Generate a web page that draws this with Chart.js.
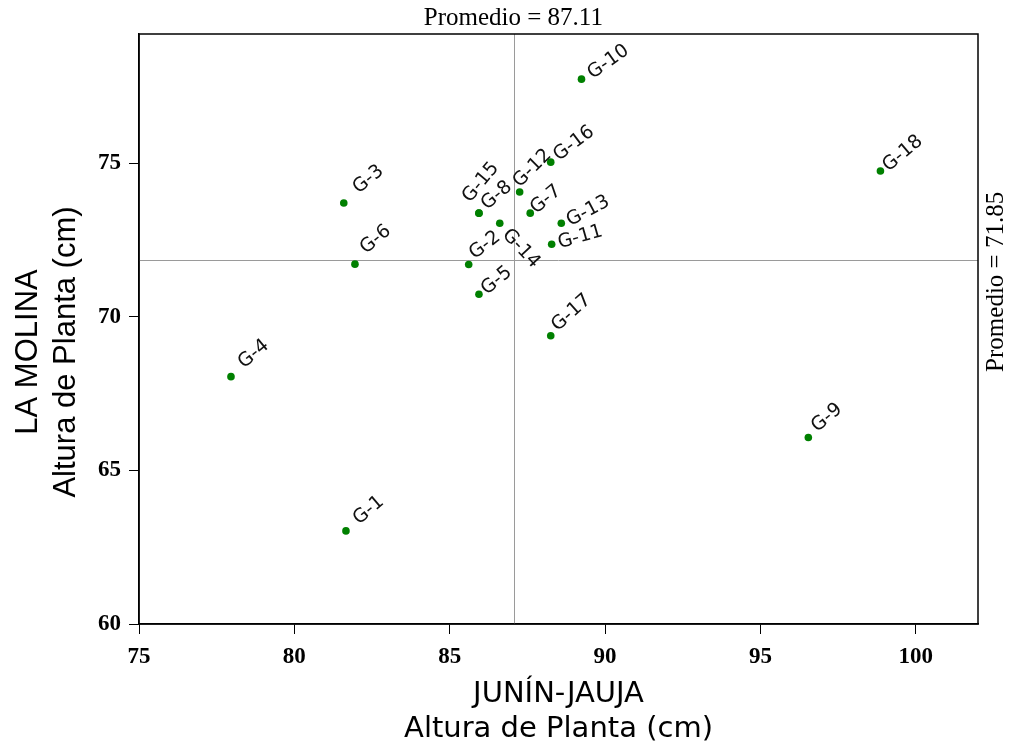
<!DOCTYPE html>
<html>
<head>
<meta charset="utf-8">
<script src="https://cdn.jsdelivr.net/npm/chart.js@4.4.0/dist/chart.umd.min.js"></script>
<style>
  body { margin: 0; background: #fff; }
  #wrap { width: 1010px; height: 749px; }
</style>
</head>
<body>
<div id="wrap"><canvas id="grafico" width="1010" height="749"></canvas></div>
<script>
// Genotipos y altura de planta (cm) en cada localidad
const genotipos = ['G-1', 'G-2', 'G-3', 'G-4', 'G-5', 'G-6', 'G-7', 'G-8', 'G-9',
    'G-10', 'G-11', 'G-12', 'G-13', 'G-14', 'G-15', 'G-16', 'G-17', 'G-18'];
const alturaJunin = [81.66, 85.61, 81.59, 77.96, 85.94, 81.95, 87.59, 85.94, 96.54,
    89.24, 88.28, 87.25, 88.59, 86.61, 85.94, 88.25, 88.25, 98.86];
const alturaMolina = [63.03, 71.70, 73.70, 68.05, 70.73, 71.71, 73.37, 73.37, 66.07,
    77.73, 72.36, 74.06, 73.04, 73.04, 73.37, 75.03, 69.38, 74.74];
const promedioJunin = 87.11;
const promedioMolina = 71.85;
const ticksX = [75, 80, 85, 90, 95, 100];
const ticksY = [60, 65, 70, 75];

// Desplazamiento [dx, dy] y giro (grados) de cada etiqueta respecto a su punto
const etiquetaPos = {
    'G-1': [13, -6, -40], 'G-2': [6, -5, -38], 'G-3': [15, -9, -40], 'G-4': [13, -8, -40],
    'G-5': [8, 1, -40], 'G-6': [11, -10, -40], 'G-7': [6, 1, -40], 'G-8': [8, -3, -40],
    'G-9': [9, -5, -40], 'G-10': [11, 0, -35], 'G-11': [8, 4, -16], 'G-12': [0, -4, -45],
    'G-13': [9, 3, -28], 'G-14': [2, 12, 47], 'G-15': [-9, -10, -50], 'G-16': [8, -1, -37],
    'G-17': [7, -4, -42], 'G-18': [8, 1, -40]
};

const puntos = genotipos.map((g, i) => ({ x: alturaJunin[i], y: alturaMolina[i] }));

// Lineas de promedio, marco, textos y etiquetas de genotipos
const decoracion = {
    id: 'decoracion',
    beforeDatasetsDraw(chart) {
        const { ctx, chartArea: a, scales: { x, y } } = chart;
        const mx = x.getPixelForValue(promedioJunin);
        const my = y.getPixelForValue(promedioMolina);
        ctx.save();
        ctx.strokeStyle = '#9a9a9a';
        ctx.lineWidth = 1;
        ctx.beginPath();
        ctx.moveTo(Math.round(mx) - 0.5, a.top);
        ctx.lineTo(Math.round(mx) - 0.5, a.bottom);
        ctx.moveTo(a.left, Math.round(my) + 0.5);
        ctx.lineTo(a.right, Math.round(my) + 0.5);
        ctx.stroke();
        ctx.restore();
    },
    afterDatasetsDraw(chart) {
        const { ctx, chartArea: a, scales: { x, y } } = chart;
        const meta = chart.getDatasetMeta(0);
        ctx.save();
        ctx.fillStyle = '#111';
        ctx.font = '19px "DejaVu Sans"';
        ctx.textAlign = 'left';
        ctx.textBaseline = 'alphabetic';
        genotipos.forEach((g, i) => {
            const p = meta.data[i];
            const [dx, dy, ang] = etiquetaPos[g] || [8, -6, -40];
            ctx.save();
            ctx.translate(p.x + dx, p.y + dy);
            ctx.rotate(ang * Math.PI / 180);
            ctx.fillText(g, 0, 0);
            ctx.restore();
        });

        // marco del area de trazado
        ctx.strokeStyle = '#000';
        ctx.lineWidth = 1.5;
        ctx.strokeRect(a.left, a.top, a.right - a.left, a.bottom - a.top);

        // textos de promedio
        const mx = x.getPixelForValue(promedioJunin);
        const my = y.getPixelForValue(promedioMolina);
        ctx.fillStyle = '#000';
        ctx.font = '25px "Liberation Serif"';
        ctx.textAlign = 'center';
        ctx.fillText('Promedio = ' + promedioJunin.toFixed(2), mx - 2, 25);
        ctx.save();
        ctx.translate(1003, my + 22);
        ctx.rotate(-Math.PI / 2);
        ctx.fillText('Promedio = ' + promedioMolina.toFixed(2), 0, 0);
        ctx.restore();

        // titulos de ejes
        const cx = (a.left + a.right) / 2;
        ctx.font = '29px "DejaVu Sans"';
        ctx.fillText('JUNÍN-JAUJA', cx, 702);
        ctx.fillText('Altura de Planta (cm)', cx, 737);
        ctx.save();
        ctx.translate(0, 352);
        ctx.rotate(-Math.PI / 2);
        ctx.font = '31px "Liberation Sans"';
        ctx.fillText('LA MOLINA', 0, 37);
        ctx.fillText('Altura de Planta (cm)', 0, 75);
        ctx.restore();
        ctx.restore();
    }
};

const fuenteTicks = { family: 'Liberation Serif', size: 23, weight: 'bold' };

new Chart(document.getElementById('grafico').getContext('2d'), {
    type: 'scatter',
    data: {
        datasets: [{
            data: puntos,
            backgroundColor: '#008000',
            borderWidth: 0,
            pointRadius: 3.8,
            pointHoverRadius: 3.8
        }]
    },
    options: {
        responsive: false,
        animation: false,
        layout: { padding: { top: 34, right: 32, left: 0, bottom: 0 } },
        plugins: {
            legend: { display: false },
            tooltip: { enabled: false }
        },
        scales: {
            x: {
                type: 'linear',
                min: 75,
                max: 102,
                afterBuildTicks: s => { s.ticks = ticksX.map(v => ({ value: v })); },
                afterFit: s => { s.height = 125; },
                ticks: { color: '#000', font: fuenteTicks, padding: 9, maxRotation: 0 },
                grid: { drawOnChartArea: false, drawTicks: true, tickLength: 10, color: '#000' },
                border: { display: true, color: '#000', width: 1.5 }
            },
            y: {
                type: 'linear',
                min: 60,
                max: 79.2,
                afterBuildTicks: s => { s.ticks = ticksY.map(v => ({ value: v })); },
                afterFit: s => { s.width = 139; },
                ticks: { color: '#000', font: fuenteTicks, padding: 8 },
                grid: { drawOnChartArea: false, drawTicks: true, tickLength: 10, color: '#000' },
                border: { display: true, color: '#000', width: 1.5 }
            }
        }
    },
    plugins: [decoracion]
});
</script>
</body>
</html>
